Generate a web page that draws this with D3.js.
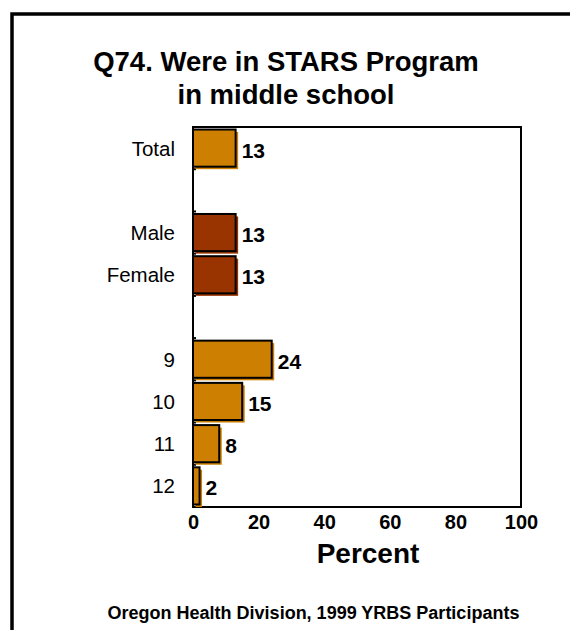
<!DOCTYPE html>
<html>
<head>
<meta charset="utf-8">
<script src="https://cdn.jsdelivr.net/npm/d3@7"></script>
<style>
  html, body { margin: 0; padding: 0; background: #fff; }
  svg { display: block; }
  text { font-family: "Liberation Sans", Arial, sans-serif; fill: #000; }
</style>
</head>
<body>
<svg id="chart" width="570" height="630"></svg>
<script>
// ---- data ----
const slotKeys = ["Total", "gap1", "Male", "Female", "gap2", "9", "10", "11", "12"];
const slotLabels = ["Total", "", "Male", "Female", "", "9", "10", "11", "12"];
const categories = ["Total", "Male", "Female", "9", "10", "11", "12"];
const values = [13, 13, 13, 24, 15, 8, 2];
const groups = ["total", "sex", "sex", "grade", "grade", "grade", "grade"];
const xTicks = [0, 20, 40, 60, 80, 100];
const titleLines = ["Q74. Were in STARS Program", "in middle school"];
const xTitle = "Percent";
const footer = "Oregon Health Division, 1999 YRBS Participants";

const colors = { total: "#CC7F00", sex: "#993300", grade: "#CC7F00" };

const svg = d3.select("#chart");

// outer frame (right and bottom edges fall beyond the canvas)
svg.append("rect")
  .attr("x", 12).attr("y", 14)
  .attr("width", 600).attr("height", 660)
  .attr("fill", "none").attr("stroke", "#000").attr("stroke-width", 3.5);

// title
svg.selectAll("text.title").data(titleLines).enter().append("text")
  .attr("class", "title")
  .attr("x", 286)
  .attr("y", (d, i) => 71 + i * 33)
  .attr("text-anchor", "middle")
  .style("font-size", "27.5px").style("font-weight", "bold")
  .text(d => d);

const pLeft = 193, pRight = 521, pTop = 127, pBottom = 507;

const x = d3.scaleLinear().domain([0, 100]).range([pLeft, pRight]);
const y = d3.scaleBand().domain(slotKeys).range([pTop, pBottom])
  .paddingInner(0.12).paddingOuter(0.06);
const step = y.step();
const slotCenter = k => y(k) + y.bandwidth() / 2;

// plot frame
svg.append("rect")
  .attr("x", pLeft).attr("y", pTop)
  .attr("width", pRight - pLeft).attr("height", pBottom - pTop)
  .attr("fill", "none").attr("stroke", "#000").attr("stroke-width", 2);

// small inward ticks at slot boundaries
svg.selectAll("line.slotTick").data(slotKeys.slice(1)).enter().append("line")
  .attr("class", "slotTick")
  .attr("x1", pLeft).attr("x2", pLeft + 3)
  .attr("y1", k => y(k) - step * 0.06).attr("y2", k => y(k) - step * 0.06)
  .attr("stroke", "#000").attr("stroke-width", 2);

// left axis labels
const yAxis = d3.axisLeft(y).tickSize(0).tickPadding(18)
  .tickFormat(k => slotLabels[slotKeys.indexOf(k)]);
const gy = svg.append("g").attr("transform", `translate(${pLeft},0)`).call(yAxis);
gy.select(".domain").remove();
gy.selectAll("text")
  .attr("dy", "0.37em")
  .style("font-size", "20.5px")
  .style("font-family", "'Liberation Sans', Arial, sans-serif")
  .attr("fill", "#000");

// bottom axis
const xAxis = d3.axisBottom(x).tickValues(xTicks).tickSize(0).tickFormat(d3.format("d"));
const gx = svg.append("g").attr("transform", `translate(0,${pBottom})`).call(xAxis);
gx.select(".domain").remove();
gx.selectAll("text")
  .attr("y", 22).attr("dy", 0)
  .style("font-size", "20px").style("font-weight", "bold")
  .style("font-family", "'Liberation Sans', Arial, sans-serif")
  .attr("fill", "#000");

// bars: shadow then outlined bar
const data = categories.map((c, i) => ({ c, v: values[i], g: groups[i] }));
const shadowOff = 2.5;
svg.selectAll("rect.shadow").data(data).enter().append("rect")
  .attr("class", "shadow")
  .attr("x", x(0) + shadowOff)
  .attr("y", d => y(d.c) + shadowOff)
  .attr("width", d => x(d.v) - x(0))
  .attr("height", y.bandwidth())
  .attr("fill", d => colors[d.g]);
svg.selectAll("rect.bar").data(data).enter().append("rect")
  .attr("class", "bar")
  .attr("x", x(0))
  .attr("y", d => y(d.c))
  .attr("width", d => x(d.v) - x(0))
  .attr("height", y.bandwidth())
  .attr("fill", d => colors[d.g])
  .attr("stroke", "#000").attr("stroke-width", 2);

// value labels
svg.selectAll("text.val").data(data).enter().append("text")
  .attr("class", "val")
  .attr("x", d => x(d.v) + 6)
  .attr("y", d => slotCenter(d.c) + 9.5)
  .style("font-size", "21px").style("font-weight", "bold")
  .text(d => d.v);

// x title
svg.append("text")
  .attr("x", 368).attr("y", 563)
  .attr("text-anchor", "middle")
  .style("font-size", "28px").style("font-weight", "bold")
  .text(xTitle);

// footer
svg.append("text")
  .attr("x", 313.5).attr("y", 619)
  .attr("text-anchor", "middle")
  .style("font-size", "18px").style("font-weight", "bold")
  .text(footer);
</script>
</body>
</html>
